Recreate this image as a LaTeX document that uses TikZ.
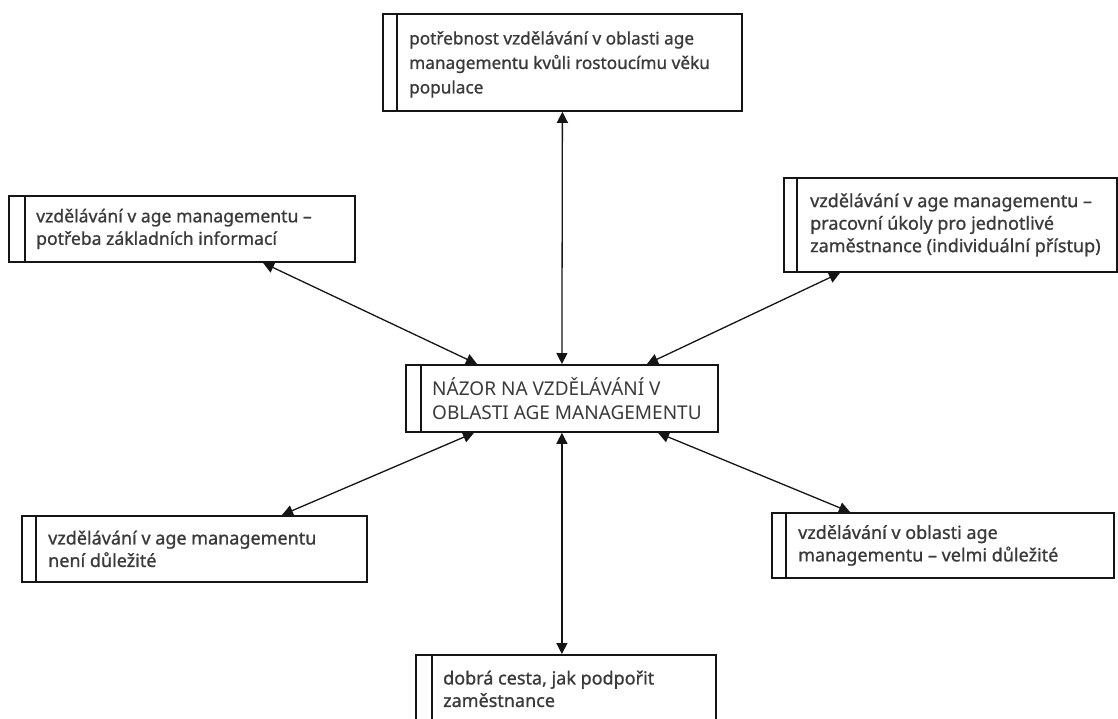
\documentclass[tikz,border=0pt]{standalone}
\usepackage{fontspec}
\setmainfont{Noto Sans}
\newfontfamily\boxfont{Noto Sans}[FakeBold=1]
\usetikzlibrary{arrows.meta}
\definecolor{txt}{HTML}{3A3A3A}
\definecolor{frame}{HTML}{151515}
\tikzset{
  box/.style={draw=frame, line width=1.8pt, rectangle, inner sep=0pt, anchor=north west},
  bar/.style={draw=frame, line width=1.6pt},
  lbl/.style={anchor=west, align=left, inner sep=0pt, text=txt,
    font=\boxfont\fontsize{18}{22.5}\selectfont},
  toplbl/.style={lbl, font=\boxfont\fontsize{17.2}{24.5}\selectfont},
  mainlbl/.style={lbl, font=\fontsize{19}{24}\selectfont},
  link/.style={line width=1.3pt, draw=frame,
    {Triangle[length=11pt,width=11pt]}-{Triangle[length=11pt,width=11pt]}}
}
\begin{document}
\begin{tikzpicture}[x=1pt,y=-1pt]
\useasboundingbox (0,0) rectangle (1118,718);
\clip (0,0) rectangle (1118,718);
% boxes: name, top-left corner, size
\node[box, minimum width=359pt, minimum height=97pt] (t)  at (382,13)  {};
\node[box, minimum width=312pt, minimum height=67pt] (c)  at (405,364) {};
\node[box, minimum width=300pt, minimum height=68pt] (b)  at (415,654) {};
\node[box, minimum width=346pt, minimum height=66pt] (lt) at (8,195)   {};
\node[box, minimum width=333pt, minimum height=94pt] (rt) at (783,177) {};
\node[box, minimum width=345pt, minimum height=66pt] (lb) at (21,515)  {};
\node[box, minimum width=342pt, minimum height=65pt] (rb) at (771,512) {};
% inner side bars
\foreach \n/\d in {t/15, c/16, b/17, lt/17, rt/14, lb/15, rb/15}
  \draw[bar] ([xshift=\d pt]\n.north west) -- ([xshift=\d pt]\n.south west);
% texts
\node[toplbl] (tT) at ([xshift=27pt,yshift=-2pt]t.west) {potřebnost vzdělávání v oblasti age\\managementu kvůli rostoucímu věku\\populace};
\node[mainlbl] (cT) at ([xshift=27pt]c.west) {NÁZOR NA VZDĚLÁVÁNÍ V\\OBLASTI AGE MANAGEMENTU};
\node[lbl] (bT) at ([xshift=28pt]b.west) {dobrá cesta, jak podpořit\\zaměstnance};
\node[lbl, font=\boxfont\fontsize{17.6}{22.5}\selectfont] (ltT) at ([xshift=28pt]lt.west) {vzdělávání v age managementu –\\potřeba základních informací};
\node[lbl] (rtT) at ([xshift=27pt]rt.west) {vzdělávání v age managementu –\\pracovní úkoly pro jednotlivé\\zaměstnance (individuální přístup)};
\node[lbl] (lbT) at ([xshift=27pt]lb.west) {vzdělávání v age managementu\\není důležité};
\node[lbl] (rbT) at ([xshift=27pt]rb.west) {vzdělávání v oblasti age\\managementu – velmi důležité};
% connectors
\draw[link] (t.south) -- (c.north);
\draw[link] ([xshift=255pt]lt.south west) -- ([xshift=72pt]c.north west);
\draw[link] ([xshift=57pt]rt.south west) -- ([xshift=242pt]c.north west);
\draw[link] ([xshift=261pt]lb.north west) -- ([xshift=69pt]c.south west);
\draw[link] (c.south) -- (c.south |- b.north);
\draw[link] ([xshift=79pt]rb.north west) -- ([xshift=253pt]c.south west);
\end{tikzpicture}
\end{document}
